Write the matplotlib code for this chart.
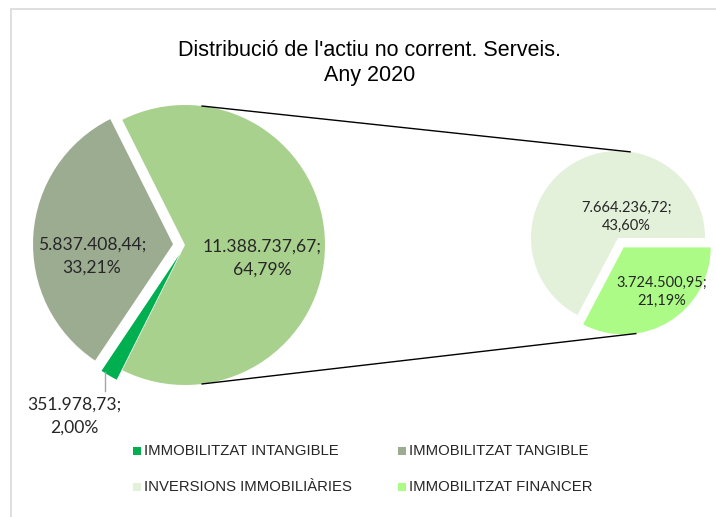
import numpy as np
import matplotlib.pyplot as plt

# valors (euros)
intangible = 351978.73
tangible = 5837408.44
inversions = 7664236.72
financer = 3724500.95

categories = ['IMMOBILITZAT INTANGIBLE', 'IMMOBILITZAT TANGIBLE',
              'INVERSIONS IMMOBILIÀRIES', 'IMMOBILITZAT FINANCER']
colors = ['#00B050', '#9CAC91', '#E3F0DA', '#ABFB86']
other_color = '#A9D18E'

total = intangible + tangible + inversions + financer
other = inversions + financer


def fmt_num(v):
    s = f'{v:,.2f}'
    return s.replace(',', 'X').replace('.', ',').replace('X', '.')


def fmt_pct(v):
    return f'{100 * v / total:.2f}%'.replace('.', ',')


def label(v):
    return f'{fmt_num(v)};\n{fmt_pct(v)}'


W, H = 716, 517
fig = plt.figure(figsize=(W / 100, H / 100), dpi=100)
ax = fig.add_axes([0, 0, 1, 1])

# marc del grafic
fig.patches.append(plt.Rectangle((11 / W, -0.1), 1.2, (H - 9) / H + 0.1,
                                 transform=fig.transFigure, fill=False,
                                 edgecolor='#D9D9D9', linewidth=1.2))

# pastís principal (explode en unitats de dades)
c1 = (185, H - 245)
r1 = 140
start1 = -360 * other / total / 2
ax.pie([other, tangible, intangible], colors=[other_color, colors[1], colors[0]],
       center=c1, radius=r1, startangle=start1, counterclock=True,
       explode=[0, 12, 11], frame=True,
       wedgeprops=dict(linewidth=0))

# pastís secundari
c2 = (618, H - 238)
r2 = 87
fin_expl = 11
start2 = -360 * financer / other
ax.pie([financer, inversions], colors=[colors[3], colors[2]],
       center=c2, radius=r2, startangle=start2, counterclock=True,
       explode=[fin_expl, 0], frame=True,
       wedgeprops=dict(linewidth=0))
ax.set_xlim(0, W)
ax.set_ylim(0, H)
ax.set_aspect('equal')
ax.axis('off')

# línies de connexió
thm = np.radians(start2 / 2)
c2f = (c2[0] + fin_expl * np.cos(thm), c2[1] + fin_expl * np.sin(thm))
for a1, a2, cc in [(83, 82, c2), (-83, -82, c2f)]:
    p1 = (c1[0] + r1 * np.cos(np.radians(a1)), c1[1] + r1 * np.sin(np.radians(a1)))
    p2 = (cc[0] + r2 * np.cos(np.radians(a2)), cc[1] + r2 * np.sin(np.radians(a2)))
    ax.plot([p1[0], p2[0]], [p1[1], p2[1]], color='black', linewidth=1)

lab_font = dict(family=['Lato', 'DejaVu Sans'], color='#262626',
                ha='center', va='center')
ax.text(92, H - 256, label(tangible), fontsize=12.6, linespacing=1.5, **lab_font)
ax.text(262, H - 258, label(other), fontsize=12.6, linespacing=1.5, **lab_font)
ax.text(74, H - 416, label(intangible), fontsize=12.6, linespacing=1.5, **lab_font)
ax.plot([105, 105], [H - 372, H - 391], color='#A6A6A6', linewidth=1)
ax.text(626, H - 217, label(inversions), fontsize=10.5, linespacing=1.4, **lab_font)
ax.text(662, H - 292, label(financer), fontsize=10.5, linespacing=1.4, **lab_font)

# títol
ax.text(370, H - 63, "Distribució de l'actiu no corrent. Serveis.\nAny 2020",
        family='Liberation Sans', fontsize=15.5, ha='center', va='center',
        color='black', linespacing=1.2)

# llegenda
leg_pos = [(133, 451), (398, 451), (133, 487), (398, 487)]
for (x, y), name, col in zip(leg_pos, categories, colors):
    ax.add_patch(plt.Rectangle((x, H - y - 4), 8, 8, color=col, linewidth=0))
    ax.text(x + 11, H - y, name, family='Liberation Sans', fontsize=10.7,
            ha='left', va='center', color='#262626')

fig.savefig('out.png', dpi=100)
